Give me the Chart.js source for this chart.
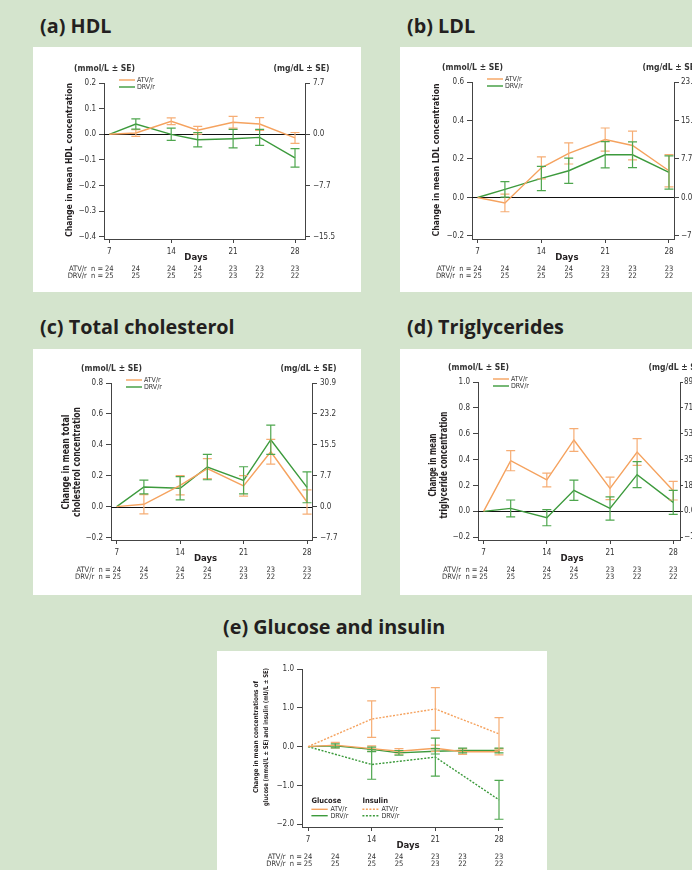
<!DOCTYPE html>
<html lang="en">
<head>
<meta charset="UTF-8">
<title>Change in lipids, glucose and insulin</title>
<script src="https://cdn.jsdelivr.net/npm/chart.js@4.4.1/dist/chart.umd.min.js"></script>
<style>
  html, body { margin: 0; padding: 0; }
  body {
    width: 692px;
    height: 870px;
    overflow: hidden;
    position: relative;
    background: #d4e4cd;
    font-family: 'Open Sans', sans-serif;
  }
  .head {
    position: absolute;
    font-weight: 700;
    font-size: 19.8px;
    line-height: 19.8px;
    color: #231f20;
    white-space: nowrap;
  }
  .box {
    position: absolute;
    background: #fff;
  }
  .box canvas { display: block; }
</style>
</head>
<body>

<div class="head" style="left:40px;top:15.7px">(a) HDL</div>
<div class="head" style="left:407px;top:15.7px">(b) LDL</div>
<div class="head" style="left:40px;top:317px">(c) Total cholesterol</div>
<div class="head" style="left:407px;top:317px">(d) Triglycerides</div>
<div class="head" style="left:223px;top:617px">(e) Glucose and insulin</div>

<script>
// days of measurement and patients per arm
const days = [7, 10, 14, 17, 21, 24, 28];
const insulinDays = [7, 14, 21, 28];
const xTicks = [7, 14, 21, 28];
const nAtv = [24, 24, 24, 24, 23, 23, 23];
const nDrv = [25, 25, 25, 25, 23, 22, 22];

// (a) HDL, mmol/L
const hdlAtv   = [0, 0.005, 0.051, 0.016, 0.047, 0.040, -0.014];
const hdlAtvSe = [0, 0.013, 0.013, 0.015, 0.023, 0.025, 0.021];
const hdlDrv   = [0, 0.040, 0.000, -0.021, -0.017, -0.012, -0.092];
const hdlDrvSe = [0, 0.020, 0.024, 0.028, 0.036, 0.031, 0.036];
const hdlTicks = [-0.4, -0.3, -0.2, -0.1, 0, 0.1, 0.2];
const hdlRightVals = [-0.4, -0.2, 0, 0.2];
const hdlRightLabels = ['−15.5', '−7.7', '0.0', '7.7'];

// (b) LDL
const ldlAtv   = [0, -0.028, 0.154, 0.229, 0.301, 0.270, 0.139];
const ldlAtvSe = [0, 0.046, 0.057, 0.055, 0.060, 0.075, 0.084];
const ldlDrv   = [0, 0.042, 0.099, 0.139, 0.222, 0.222, 0.130];
const ldlDrvSe = [0, 0.040, 0.063, 0.066, 0.068, 0.067, 0.086];
const ldlTicks = [-0.2, 0, 0.2, 0.4, 0.6];
const ldlRightLabels = ['−7.7', '0.0', '7.7', '15.5', '23.2'];

// (c) total cholesterol
const tcAtv   = [0, 0.015, 0.138, 0.246, 0.134, 0.355, 0.030];
const tcAtvSe = [0, 0.062, 0.062, 0.065, 0.066, 0.080, 0.078];
const tcDrv   = [0, 0.127, 0.119, 0.256, 0.170, 0.433, 0.125];
const tcDrvSe = [0, 0.044, 0.075, 0.082, 0.088, 0.095, 0.100];
const tcTicks = [-0.2, 0, 0.2, 0.4, 0.6, 0.8];
const tcRightLabels = ['−7.7', '0.0', '7.7', '15.5', '23.2', '30.9'];

// (d) triglycerides
const tgAtv   = [0, 0.392, 0.243, 0.552, 0.178, 0.459, 0.160];
const tgAtvSe = [0, 0.078, 0.053, 0.088, 0.087, 0.103, 0.072];
const tgDrv   = [0, 0.023, -0.049, 0.163, 0.023, 0.284, 0.070];
const tgDrvSe = [0, 0.065, 0.062, 0.078, 0.090, 0.100, 0.093];
const tgTicks = [-0.2, 0, 0.2, 0.4, 0.6, 0.8, 1.0];
const tgRightLabels = ['−18', '0.0', '18', '35', '53', '71', '89'];

// (e) glucose (mmol/L) and insulin (mU/L)
const gluAtv   = [0, 0.04, -0.05, -0.12, -0.04, -0.13, -0.13];
const gluAtvSe = [0, 0.07, 0.07, 0.07, 0.08, 0.07, 0.08];
const gluDrv   = [0, 0.02, -0.07, -0.16, -0.12, -0.10, -0.10];
const gluDrvSe = [0, 0.05, 0.06, 0.06, 0.07, 0.06, 0.06];
const insAtv   = [0, 0.71, 0.97, 0.33];
const insAtvSe = [0, 0.47, 0.55, 0.42];
const insDrv   = [0, -0.46, -0.27, -1.37];
const insDrvSe = [0, 0.38, 0.49, 0.50];
const giTicks = [-2, -1, 0, 1, 2];
const giTickLabels = ['−2.0', '−1.0', '0.0', '1.0', '1.0'];

const FONT = "'Liberation Sans Narrow', 'DejaVu Sans Condensed', 'Arial Narrow', sans-serif";
const ORANGE = '#f5a25e', ORANGE_BAR = '#f6ad74';
const GREEN = '#3c9a3c', GREEN_BAR = '#4ea64e';
const INK = '#333';

// scale box sizes (labels are clipped to these)
const LEFT_W = 34, RIGHT_W = 32, BOTTOM_H = 22;

Chart.defaults.font.family = FONT;
Chart.defaults.color = INK;

function fmt(v) {
  return (v < 0 ? '−' : '') + Math.abs(v).toFixed(1);
}

function series(xs, ys, se, label, color, barColor, dash) {
  return {
    label, se, barColor,
    data: xs.map((x, i) => ({ x, y: ys[i] })),
    borderColor: color,
    borderWidth: 1.4,
    borderDash: dash || [],
    pointRadius: 0,
    tension: 0,
    fill: false
  };
}

function txt(ctx, s, x, y, size, bold, align, color) {
  ctx.font = (bold ? 'bold ' : '') + size + 'px ' + FONT;
  ctx.fillStyle = color || INK;
  ctx.textAlign = align || 'left';
  ctx.textBaseline = 'middle';
  ctx.fillText(s, x, y);
}

function panelPlugin(p) {
  return {
    id: 'panelExtras',
    beforeDatasetsDraw(chart) {
      if (!p.zeroLine) return;
      const { ctx, chartArea: a, scales: { y } } = chart;
      const yy = Math.round(y.getPixelForValue(0)) + 0.5;
      ctx.save();
      ctx.strokeStyle = '#111';
      ctx.lineWidth = 1;
      ctx.beginPath();
      ctx.moveTo(a.left, yy);
      ctx.lineTo(a.right, yy);
      ctx.stroke();
      ctx.restore();
    },
    afterDatasetsDraw(chart) {
      const { ctx, scales: { x, y } } = chart;
      ctx.save();
      ctx.lineWidth = 1.2;
      chart.data.datasets.forEach(ds => {
        ctx.strokeStyle = ds.barColor;
        ds.data.forEach((pt, j) => {
          const se = ds.se[j];
          if (!se) return;
          const px = x.getPixelForValue(pt.x);
          const top = y.getPixelForValue(pt.y + se);
          const bot = y.getPixelForValue(pt.y - se);
          ctx.beginPath();
          ctx.moveTo(px, top); ctx.lineTo(px, bot);
          ctx.moveTo(px - 4.5, top); ctx.lineTo(px + 4.5, top);
          ctx.moveTo(px - 4.5, bot); ctx.lineTo(px + 4.5, bot);
          ctx.stroke();
        });
      });
      ctx.restore();
    },
    afterDraw(chart) {
      const { ctx, chartArea: a, scales: { x } } = chart;
      ctx.save();
      if (p.unitL) txt(ctx, p.unitL, a.left - 30, a.top - 14.7, 8.5, true, 'left');
      if (p.unitR) txt(ctx, p.unitR, a.right + 24.5, a.top - 14.7, 8.5, true, 'right');

      // rotated axis title, squeezed to the measured length
      p.yTitle.forEach((line, i) => {
        ctx.save();
        ctx.translate(a.left + p.yTitleDx[i], a.top + p.yTitleDy);
        ctx.rotate(-Math.PI / 2);
        ctx.font = 'bold ' + p.yTitleSize + 'px ' + FONT;
        if (p.yTitleW) {
          const w = ctx.measureText(line).width;
          ctx.scale(p.yTitleW[i] / w, 1);
        }
        txt(ctx, line, 0, 0, p.yTitleSize, true, 'center', '#231f20');
        ctx.restore();
      });

      txt(ctx, 'Days', x.getPixelForValue(p.daysAt), a.bottom + 19, 9.5, true, 'center', '#231f20');

      const x7 = x.getPixelForValue(days[0]);
      txt(ctx, 'ATV/r  n = ', x7 - 4, a.bottom + 30, 7.5, false, 'right');
      txt(ctx, 'DRV/r  n = ', x7 - 4, a.bottom + 37.5, 7.5, false, 'right');
      days.forEach((d, i) => {
        const px = x.getPixelForValue(d);
        txt(ctx, String(nAtv[i]), px, a.bottom + 30, 7.5, false, 'center');
        txt(ctx, String(nDrv[i]), px, a.bottom + 37.5, 7.5, false, 'center');
      });

      ctx.lineWidth = 1.4;
      const ds = chart.data.datasets;
      if (p.legend === 'pair') {
        [0, 1].forEach(i => {
          const ly = a.top - 3 + i * 7;
          ctx.strokeStyle = ds[i].borderColor;
          ctx.setLineDash([]);
          ctx.beginPath(); ctx.moveTo(a.left + 15, ly); ctx.lineTo(a.left + 31, ly); ctx.stroke();
          txt(ctx, ds[i].label, a.left + 33, ly, 7, false, 'left');
        });
      } else {
        const groups = [['Glucose', 9.4, [0, 1]], ['Insulin', 60.4, [2, 3]]];
        groups.forEach(([head, gx, idx]) => {
          txt(ctx, head, a.left + gx, a.top + 131.7, 7.5, true, 'left', '#231f20');
          idx.forEach((k, r) => {
            const ly = a.top + 140.3 + r * 6.4;
            ctx.strokeStyle = ds[k].borderColor;
            ctx.setLineDash(ds[k].borderDash);
            ctx.beginPath(); ctx.moveTo(a.left + gx, ly); ctx.lineTo(a.left + gx + 16.3, ly); ctx.stroke();
            ctx.setLineDash([]);
            txt(ctx, ds[k].label, a.left + gx + 19, ly, 7, false, 'left');
          });
        });
      }
      ctx.restore();
    }
  };
}

function makePanel(p) {
  const wrap = document.createElement('div');
  wrap.className = 'box';
  wrap.style.cssText = `left:${p.box.x}px;top:${p.box.y}px;width:${p.box.w}px;height:${p.box.h}px`;
  const cv = document.createElement('canvas');
  cv.width = p.box.w;
  cv.height = p.box.h;
  wrap.appendChild(cv);
  document.body.appendChild(wrap);

  const rightW = p.rightVals ? RIGHT_W : 0;
  const pad = {
    left: p.area.l - p.box.x - LEFT_W,
    top: p.area.t - p.box.y,
    right: p.box.x + p.box.w - p.area.r - rightW,
    bottom: p.box.y + p.box.h - p.area.b - BOTTOM_H
  };
  const axisLine = { display: true, color: '#444', width: 1 };
  const marks = len => ({ display: true, drawOnChartArea: false, drawTicks: true, tickLength: len, color: '#444' });

  const scales = {
    x: {
      type: 'linear', position: 'bottom', min: p.xMin, max: p.xMax,
      afterBuildTicks: s => { s.ticks = xTicks.map(v => ({ value: v })); },
      afterFit: s => { s.height = BOTTOM_H; },
      grid: marks(4), border: axisLine,
      ticks: { autoSkip: false, maxRotation: 0, padding: 4, font: { size: 8 }, callback: v => String(v) }
    },
    y: {
      type: 'linear', position: 'left', min: p.yMin, max: p.yMax,
      afterBuildTicks: s => { s.ticks = p.yTicks.map(v => ({ value: v })); },
      afterFit: s => { s.width = LEFT_W; },
      grid: marks(5), border: axisLine,
      ticks: { autoSkip: false, padding: 3, font: { size: 8 }, callback: v => p.yLabels[p.yTicks.indexOf(v)] }
    }
  };
  if (p.rightVals) {
    scales.y2 = {
      type: 'linear', position: 'right', min: p.yMin, max: p.yMax,
      afterBuildTicks: s => { s.ticks = p.rightVals.map(v => ({ value: v })); },
      afterFit: s => { s.width = RIGHT_W; },
      grid: marks(p.rightTick || 5), border: axisLine,
      ticks: { autoSkip: false, padding: p.rightPad == null ? 3 : p.rightPad, font: { size: 8 },
               callback: v => p.rightLabels[p.rightVals.indexOf(v)] }
    };
  }

  new Chart(cv, {
    type: 'line',
    data: { datasets: p.datasets },
    options: {
      responsive: false,
      animation: false,
      events: [],
      layout: { padding: pad },
      scales,
      plugins: { legend: { display: false }, tooltip: { enabled: false } }
    },
    plugins: [panelPlugin(p)]
  });
}

const pairSets = (atv, atvSe, drv, drvSe) => [
  series(days, atv, atvSe, 'ATV/r', ORANGE, ORANGE_BAR),
  series(days, drv, drvSe, 'DRV/r', GREEN, GREEN_BAR)
];

makePanel({
  box: { x: 33, y: 47, w: 328, h: 245 }, area: { l: 104, r: 305, t: 83, b: 239 },
  xMin: 6.4, xMax: 29.13, yMin: -0.408, yMax: 0.2,
  yTicks: hdlTicks, yLabels: hdlTicks.map(fmt),
  rightVals: hdlRightVals, rightLabels: hdlRightLabels,
  unitL: '(mmol/L ± SE)', unitR: '(mg/dL ± SE)', zeroLine: true, legend: 'pair',
  yTitle: ['Change in mean HDL concentration'], yTitleDx: [-34.7], yTitleDy: 77, yTitleSize: 9.5, yTitleW: [154],
  daysAt: 16.8,
  datasets: pairSets(hdlAtv, hdlAtvSe, hdlDrv, hdlDrvSe)
});

makePanel({
  box: { x: 400, y: 47, w: 330, h: 245 }, area: { l: 472, r: 674, t: 82, b: 239 },
  xMin: 6.39, xMax: 28.55, yMin: -0.2156, yMax: 0.6,
  yTicks: ldlTicks, yLabels: ldlTicks.map(fmt),
  rightVals: ldlTicks, rightLabels: ldlRightLabels,
  unitL: '(mmol/L ± SE)', unitR: '(mg/dL ± SE)', zeroLine: true, legend: 'pair',
  yTitle: ['Change in mean LDL concentration'], yTitleDx: [-35], yTitleDy: 78, yTitleSize: 9.5, yTitleW: [153],
  daysAt: 16.8, rightPad: 2,
  datasets: pairSets(ldlAtv, ldlAtvSe, ldlDrv, ldlDrvSe)
});

makePanel({
  box: { x: 33, y: 349, w: 328, h: 246 }, area: { l: 111, r: 312, t: 383, b: 540 },
  xMin: 6.37, xMax: 28.55, yMin: -0.216, yMax: 0.8,
  yTicks: tcTicks, yLabels: tcTicks.map(fmt),
  rightVals: tcTicks, rightLabels: tcRightLabels,
  unitL: '(mmol/L ± SE)', unitR: '(mg/dL ± SE)', zeroLine: true, legend: 'pair',
  yTitle: ['Change in mean total', 'cholesterol concentration'], yTitleDx: [-45, -33.3], yTitleDy: 79,
  yTitleSize: 9.8, yTitleW: [95, 110],
  daysAt: 16.8,
  datasets: pairSets(tcAtv, tcAtvSe, tcDrv, tcDrvSe)
});

makePanel({
  box: { x: 400, y: 349, w: 330, h: 246 }, area: { l: 478, r: 680, t: 382, b: 540 },
  xMin: 6.38, xMax: 28.75, yMin: -0.221, yMax: 1.0,
  yTicks: tgTicks, yLabels: tgTicks.map(fmt),
  rightVals: tgTicks, rightLabels: tgRightLabels,
  unitL: '(mmol/L ± SE)', unitR: '(mg/dL ± SE)', zeroLine: true, legend: 'pair',
  yTitle: ['Change in mean', 'triglyceride concentration'], yTitleDx: [-45, -33.7], yTitleDy: 83,
  yTitleSize: 9.8, yTitleW: [63, 107],
  daysAt: 16.8, rightTick: 3, rightPad: 1,
  datasets: pairSets(tgAtv, tgAtvSe, tgDrv, tgDrvSe)
});

makePanel({
  box: { x: 217, y: 651, w: 330, h: 230 }, area: { l: 302, r: 502, t: 669, b: 827 },
  xMin: 6.34, xMax: 28.33, yMin: -2.07, yMax: 2.0,
  yTicks: giTicks, yLabels: giTickLabels,
  zeroLine: false, legend: 'groups',
  yTitle: ['Change in mean concentrations of', 'glucose (mmol/L ± SE) and insulin (mU/L ± SE)'],
  yTitleDx: [-45.6, -35.6], yTitleDy: 68, yTitleSize: 6.6, yTitleW: [112, 138],
  daysAt: 18,
  datasets: [
    series(days, gluAtv, gluAtvSe, 'ATV/r', ORANGE, ORANGE_BAR),
    series(days, gluDrv, gluDrvSe, 'DRV/r', GREEN, GREEN_BAR),
    series(insulinDays, insAtv, insAtvSe, 'ATV/r', ORANGE, ORANGE_BAR, [2, 1.5]),
    series(insulinDays, insDrv, insDrvSe, 'DRV/r', GREEN, GREEN_BAR, [2, 1.5])
  ]
});
</script>
</body>
</html>
